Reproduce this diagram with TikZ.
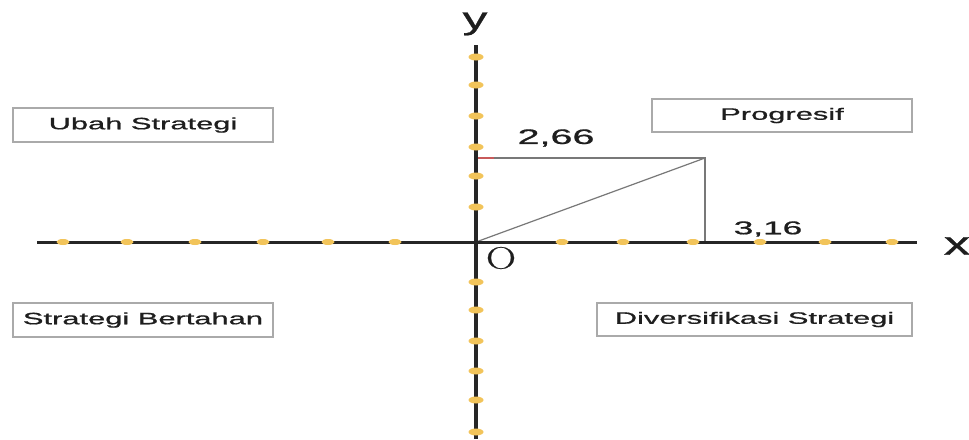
\documentclass[tikz,border=0pt]{standalone}
\usepackage{fontspec}
\newfontfamily\arial[FakeBold=0.7]{Liberation Sans}
\newfontfamily\lmo[FakeBold=0.5]{Latin Modern Roman}
\usetikzlibrary{shapes.geometric}
\definecolor{boxgray}{RGB}{170,170,170}
\definecolor{dotc}{RGB}{242,196,90}
\definecolor{axisc}{RGB}{38,38,38}
\definecolor{linec}{RGB}{120,120,120}
\definecolor{redc}{RGB}{200,90,90}
\definecolor{txtc}{RGB}{30,30,30}
\newcommand{\hs}[3]{\scalebox{#1}[1]{\arial\fontsize{#2}{#2}\selectfont #3}}
\begin{document}
\begin{tikzpicture}[x=1pt,y=-1pt,
  box/.style={draw=boxgray, line width=1.3pt, minimum height=34pt, inner sep=0pt, text=txtc},
  dot/.style={ellipse, fill=dotc, minimum width=13pt, minimum height=6pt, inner sep=0pt},
  axisline/.style={draw=axisc, line width=3pt},
  thinline/.style={draw=linec, line width=1.2pt},
  lbl/.style={inner sep=0pt, text=txtc}]
\useasboundingbox[fill=white] (0,0) rectangle (969,439);
% coordinates
\coordinate (xl) at (37,242);
\coordinate (xr) at (917,242);
\coordinate (yt) at (476,45);
\coordinate (yb) at (476,439);
\coordinate (O) at (476,242);
\coordinate (P) at (705,158);
\coordinate (Py) at (476,158);
\coordinate (Pr) at (494,158);
\coordinate (Px) at (705,242);
% triangle lines
\draw[thinline] (Py) -- (P) -- (Px);
\draw[thinline] (O) -- (P);
\draw[draw=redc, line width=1.2pt] (Py) -- (Pr);
% axes
\draw[axisline] (xl) -- (xr);
\draw[axisline, line width=3.5pt] (yt) -- (yb);
% dots
\foreach \i/\xx in {1/63,2/127,3/195,4/263,5/328,6/395,7/562,8/623,9/693,10/760,11/825,12/892}
  \node[dot] (dx\i) at (\xx,242) {};
\foreach \i/\yy in {1/57,2/85,3/116,4/147,5/176,6/207,7/282,8/310,9/341,10/371,11/400,12/432}
  \node[dot, minimum width=15pt, minimum height=7pt] (dy\i) at (476,\yy) {};
% axis labels
\node[lbl] (ylab) at (475,24) {\hs{1.6}{31}{y}};
\node[lbl] (xlab) at (957,246) {\hs{1.6}{33}{x}};
\node[lbl] (olab) at (501,258) {\scalebox{1.35}[1]{\lmo\fontsize{31}{31}\selectfont O}};
% values
\node[lbl] (v266) at (556,138) {\hs{1.88}{21}{2,66}};
\node[lbl] (v316) at (768,229) {\hs{1.9}{18.5}{3,16}};
% boxes
\node[box, minimum width=260pt] (ubah) at (143,125) {\hs{1.87}{16.5}{Ubah Strategi}};
\node[box, minimum width=260pt, minimum height=33pt] (prog) at (782,115.5) {\hs{1.87}{16.5}{Progresif}};
\node[box, minimum width=260pt] (bert) at (143,320) {\hs{1.87}{16.5}{Strategi Bertahan}};
\node[box, minimum width=315pt, minimum height=33pt] (div) at (754.5,319.5) {\hs{1.87}{16.5}{Diversifikasi Strategi}};
\end{tikzpicture}
\end{document}
